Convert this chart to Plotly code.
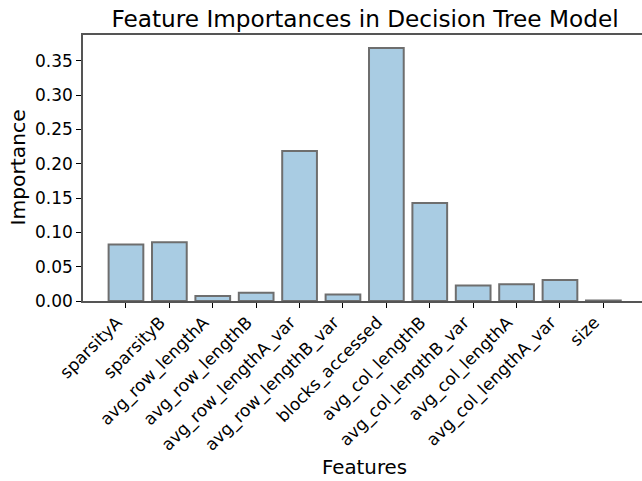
import plotly.graph_objects as go

features = ["sparsityA", "sparsityB", "avg_row_lengthA", "avg_row_lengthB",
            "avg_row_lengthA_var", "avg_row_lengthB_var", "blocks_accessed",
            "avg_col_lengthB", "avg_col_lengthB_var", "avg_col_lengthA",
            "avg_col_lengthA_var", "size"]
importances = [0.0823, 0.0857, 0.0073, 0.0122, 0.2186, 0.0093, 0.3685,
               0.1426, 0.0224, 0.0243, 0.0307, 0.0006]
y_ticks = [0.00, 0.05, 0.10, 0.15, 0.20, 0.25, 0.30, 0.35]

FONT = "DejaVu Sans"
W, H = 642, 481
L, R, T, B = 83, 0, 35, 180

fig = go.Figure(go.Bar(
    x=list(range(len(features))),
    y=importances,
    marker=dict(color="#a9cce3", line=dict(color="#6e6e6e", width=2)),
    width=0.8,
    hoverinfo="skip",
))

pw = W - L - R
ph = H - T - B

fig.update_layout(
    width=W, height=H,
    margin=dict(l=L, r=R, t=T, b=B, pad=0, autoexpand=False),
    plot_bgcolor="white", paper_bgcolor="white",
    font=dict(family=FONT, color="black", size=17),
    showlegend=False,
    title=dict(text="Feature Importances in Decision Tree Model",
               x=365 / W, xanchor="center", xref="container",
               y=1 - 19 / H, yanchor="middle", yref="container",
               automargin=False,
               font=dict(family=FONT, size=23.2, color="black")),
    xaxis=dict(
        range=[-0.99, 11.89],
        automargin=False,
        tickmode="array",
        tickvals=list(range(len(features))),
        ticktext=features,
        tickangle=-45,
        ticklabelshift=-9,
        ticklabelstandoff=-2,
        ticks="outside", ticklen=5, tickwidth=1.2, tickcolor="black",
        showline=True, linecolor="#555555", linewidth=1.5, mirror=True,
        showgrid=False, zeroline=False,
        tickfont=dict(family=FONT, size=17, color="black"),
    ),
    yaxis=dict(
        range=[0, 0.3875],
        automargin=False,
        tickmode="array",
        tickvals=y_ticks,
        ticktext=[f"{v:.2f}" for v in y_ticks],
        ticks="outside", ticklen=5, tickwidth=1.2, tickcolor="black",
        showline=True, linecolor="#555555", linewidth=1.5, mirror=False,
        showgrid=False, zeroline=False,
        tickfont=dict(family=FONT, size=17, color="black"),
    ),
    annotations=[
        dict(text="Importance", xref="paper", yref="paper",
             x=(17.5 - L) / pw, y=0.5, xanchor="center", yanchor="middle",
             textangle=-90, showarrow=False,
             font=dict(family=FONT, size=20.3, color="black")),
        dict(text="Features", xref="paper", yref="paper",
             x=(364.4 - L) / pw, y=(H - B - 467) / ph,
             xanchor="center", yanchor="middle", showarrow=False,
             font=dict(family=FONT, size=19.8, color="black")),
    ],
)

fig.write_html("out.html",
               config={"displayModeBar": False},
               post_script="document.body.style.margin='0';document.body.style.overflow='hidden';")
